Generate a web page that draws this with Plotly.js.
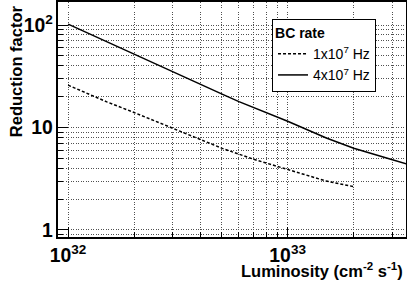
<!DOCTYPE html>
<html><head><meta charset="utf-8">
<script src="https://cdn.plot.ly/plotly-3.0.1.min.js"></script>
<style>html,body{margin:0;padding:0;background:#fff}#chart{width:407px;height:284px}</style>
</head><body><div id="chart"></div>
<script>
// Luminosity (cm^-2 s^-1)
const lumi1 = [1e32, 1.5e32, 2e32, 3e32, 5e32, 7e32, 1e33, 1.5e33, 2e33];
const red1 = [25.9, 17.8, 14.0, 9.87, 6.29, 4.9, 3.9, 3.0, 2.65];
const lumi4 = [1e32, 1.5e32, 2e32, 3e32, 5e32, 6e32, 1e33, 1.5e33, 2e33, 3e33, 3.5e33];
const red4 = [102, 68.5, 51.8, 35, 21.3, 17.9, 11.5, 7.9, 6.28, 4.85, 4.39];
const names = ['1x10<sup>7</sup> Hz', '4x10<sup>7</sup> Hz'];

const FONT = 'Liberation Sans, Arial, Helvetica, sans-serif';
const GRID = '#505050';
const DASH = '1px,1.5px';
const gridMinor = {ticks:'inside', ticklen:5, tickcolor:'#000', tickwidth:1,
  showgrid:true, gridcolor:GRID, griddash:DASH, gridwidth:1, dtick:'D1'};

const traces = [
  {x: lumi1, y: red1, name: names[0], mode:'lines', line:{color:'#000', width:1.5, dash:'3px,2px'}},
  {x: lumi4, y: red4, name: names[1], mode:'lines', line:{color:'#000', width:1.5}}
];

const layout = {
  width: 407, height: 284,
  margin: {l:58, r:1, t:2, b:47, pad:0},
  paper_bgcolor:'#fff', plot_bgcolor:'#fff',
  font: {family: FONT, color:'#000'},
  showlegend: true,
  legend: {x:0.615, y:0.928, xanchor:'left', yanchor:'top', bgcolor:'#fff',
    bordercolor:'#000', borderwidth:1, font:{size:14, family:FONT},
    title:{text:'BC rate', font:{size:14, family:FONT, weight:'bold'}},
    tracegroupgap:0},
  xaxis: {type:'log', range:[31.954, 33.539], tickmode:'linear', tick0:0, dtick:1,
    exponentformat:'power', ticks:'inside', ticklen:10, tickcolor:'#000', tickwidth:1,
    showline:true, linecolor:'#000', linewidth:2, mirror:true, ticklabelstandoff:1,
    showgrid:true, gridcolor:GRID, griddash:DASH, gridwidth:1,
    tickfont:{size:15.5, family:FONT, weight:'bold'}, minor: gridMinor, zeroline:false},
  yaxis: {type:'log', range:[-0.0684, 2.2248], tickmode:'linear', tick0:0, dtick:1,
    exponentformat:'power', ticks:'inside', ticklen:10, tickcolor:'#000', tickwidth:1,
    showline:true, linecolor:'#000', linewidth:2, mirror:true,
    showgrid:true, gridcolor:GRID, griddash:DASH, gridwidth:1,
    tickfont:{size:15.5, family:FONT, weight:'bold'}, minor: gridMinor, zeroline:false},
  annotations: [
    {text:'Reduction factor', xref:'paper', yref:'paper', x:-0.12, y:0.996,
     xanchor:'center', yanchor:'top', textangle:-90, showarrow:false,
     font:{size:16.5, family:FONT, weight:'bold'}},
    {text:'Luminosity (cm<sup>-2</sup> s<sup>-1</sup>)', xref:'paper', yref:'paper',
     x:0.997, y:-0.14, xanchor:'right', yanchor:'middle', showarrow:false,
     font:{size:16.5, family:FONT, weight:'bold'}}
  ]
};
Plotly.newPlot('chart', traces, layout, {displayModeBar:false, staticPlot:true});
</script></body></html>
